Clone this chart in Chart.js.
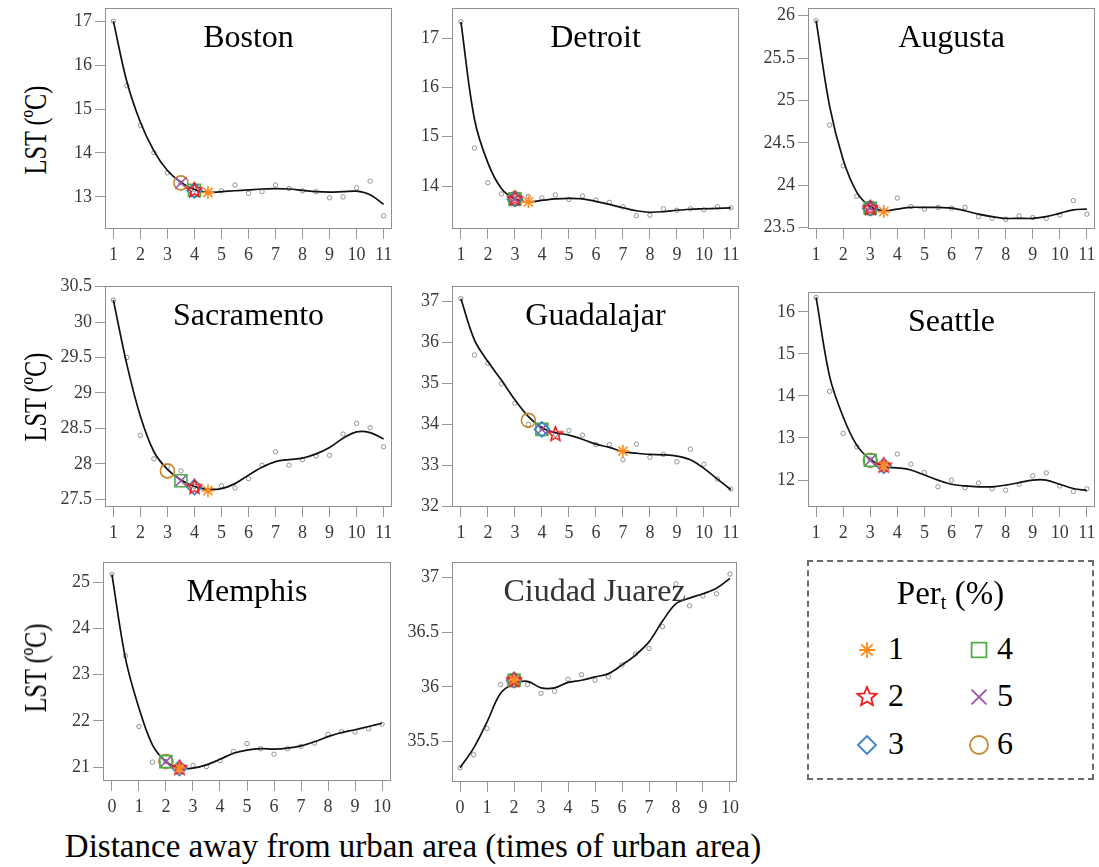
<!DOCTYPE html>
<html>
<head>
<meta charset="utf-8">
<script src="https://cdn.jsdelivr.net/npm/chart.js@4/dist/chart.umd.min.js"></script>
<style>
  html, body { margin: 0; padding: 0; background: #fff; }
  body { width: 1099px; height: 867px; position: relative; overflow: hidden;
         font-family: "Liberation Serif", "Times New Roman", serif; }
  canvas.panel { position: absolute; }
  .city { position: absolute; font-size: 32px; line-height: 32px; text-align: center;
          white-space: nowrap; color: #000; }
  .ytitle { position: absolute; left: 35px; font-size: 32px; line-height: 32px; white-space: nowrap;
            transform: translate(-50%, -50%) rotate(-90deg) scaleX(0.76); }
  .xtitle { position: absolute; left: 0; width: 826px; top: 830px; text-align: center;
            font-size: 33px; line-height: 33px; white-space: nowrap; }
  .legend { position: absolute; left: 807px; top: 560px; width: 287px; height: 220px;
            box-sizing: border-box; border: 2px dashed #6a6a6a; }
  .legtitle { position: absolute; left: 807px; width: 287px; top: 577px; text-align: center;
              font-size: 33px; line-height: 33px; white-space: nowrap; }
  .legtitle sub { font-size: 20px; line-height: 0; vertical-align: -0.25em; }
  .legnum { position: absolute; font-size: 32px; line-height: 32px; }
  canvas.legmark { position: absolute; }
</style>
</head>
<body>
<script>
// distances (times of urban area)
const distA = [1, 1.5, 2, 2.5, 3, 3.5, 4, 4.5, 5, 5.5, 6, 6.5, 7, 7.5, 8, 8.5, 9, 9.5, 10, 10.5, 11];
const distB = [0, 0.5, 1, 1.5, 2, 2.5, 3, 3.5, 4, 4.5, 5, 5.5, 6, 6.5, 7, 7.5, 8, 8.5, 9, 9.5, 10];
const ticksA = [1, 2, 3, 4, 5, 6, 7, 8, 9, 10, 11];
const ticksB = [0, 1, 2, 3, 4, 5, 6, 7, 8, 9, 10];

// LST observations (grey dots) and fitted curve, per city
const bostonObs = [17.0, 15.53, 14.63, 14.01, 13.55, 13.32, 13.16, 13.1, 13.14, 13.27, 13.08, 13.12, 13.27, 13.19, 13.14, 13.12, 12.98, 13.0, 13.21, 13.36, 12.57];
const bostonFit = [17.0, 15.62, 14.7, 14.05, 13.6, 13.33, 13.17, 13.1, 13.12, 13.14, 13.16, 13.18, 13.19, 13.18, 13.15, 13.12, 13.11, 13.12, 13.13, 13.05, 12.83];
const bostonPerX = [4.5, 4, 4, 4, 3.5, 3.5];
const bostonPerY = [13.1, 13.15, 13.15, 13.15, 13.32, 13.32];
const bostonTicks = [13, 14, 15, 16, 17];

const detroitObs = [17.33, 14.77, 14.07, 13.84, 13.75, 13.79, 13.76, 13.82, 13.73, 13.8, 13.72, 13.67, 13.58, 13.4, 13.41, 13.54, 13.51, 13.54, 13.52, 13.58, 13.56];
const detroitFit = [17.33, 15.36, 14.47, 13.95, 13.74, 13.68, 13.71, 13.74, 13.75, 13.74, 13.69, 13.63, 13.56, 13.5, 13.47, 13.48, 13.51, 13.53, 13.54, 13.55, 13.56];
const detroitPerX = [3.5, 3, 3, 3, 3, 3];
const detroitPerY = [13.68, 13.74, 13.74, 13.74, 13.74, 13.74];
const detroitTicks = [14, 15, 16, 17];

const augustaObs = [25.94, 24.71, 24.23, 23.87, 23.74, 23.7, 23.85, 23.75, 23.72, 23.74, 23.73, 23.74, 23.63, 23.61, 23.6, 23.64, 23.62, 23.61, 23.65, 23.82, 23.66];
const augustaFit = [25.94, 24.93, 24.3, 23.92, 23.75, 23.7, 23.72, 23.74, 23.74, 23.74, 23.73, 23.7, 23.66, 23.63, 23.61, 23.61, 23.61, 23.63, 23.67, 23.71, 23.72];
const augustaPerX = [3.5, 3, 3, 3, 3, 3];
const augustaPerY = [23.69, 23.73, 23.73, 23.73, 23.73, 23.73];
const augustaTicks = [23.5, 24, 24.5, 25, 25.5, 26];

const sacramentoObs = [30.31, 29.5, 28.4, 28.07, 27.96, 27.9, 27.68, 27.62, 27.69, 27.66, 27.79, 27.98, 28.17, 27.98, 28.06, 28.11, 28.12, 28.42, 28.57, 28.51, 28.24];
const sacramentoFit = [30.31, 29.4, 28.67, 28.17, 27.92, 27.77, 27.68, 27.64, 27.65, 27.72, 27.84, 27.95, 28.03, 28.06, 28.08, 28.14, 28.23, 28.36, 28.45, 28.44, 28.35];
const sacramentoPerX = [4.5, 4, 4, 3.5, 3.5, 3];
const sacramentoPerY = [27.62, 27.67, 27.67, 27.76, 27.76, 27.9];
const sacramentoTicks = [27.5, 28, 28.5, 29, 29.5, 30, 30.5];

const guadalajarObs = [37.06, 35.69, 35.49, 34.99, 34.52, 34.0, 33.9, 33.76, 33.85, 33.74, 33.51, 33.51, 33.14, 33.52, 33.2, 33.27, 33.09, 33.4, 33.03, 32.67, 32.43];
const guadalajarFit = [37.06, 36.06, 35.53, 35.08, 34.6, 34.19, 33.92, 33.8, 33.74, 33.64, 33.52, 33.44, 33.34, 33.3, 33.27, 33.26, 33.23, 33.14, 32.93, 32.67, 32.41];
const guadalajarPerX = [7, 4.5, 4, 4, 4, 3.5];
const guadalajarPerY = [33.35, 33.76, 33.88, 33.88, 33.88, 34.1];
const guadalajarTicks = [32, 33, 34, 35, 36, 37];

const seattleObs = [16.34, 14.11, 13.11, 12.79, 12.5, 12.35, 12.62, 12.38, 12.18, 11.84, 12.0, 11.82, 11.93, 11.79, 11.76, 11.9, 12.1, 12.17, 11.86, 11.73, 11.79];
const seattleFit = [16.34, 14.46, 13.5, 12.83, 12.49, 12.32, 12.29, 12.24, 12.12, 12.0, 11.9, 11.86, 11.84, 11.84, 11.88, 11.94, 12.0, 12.0, 11.9, 11.8, 11.75];
const seattlePerX = [3.5, 3.5, 3.5, 3, 3, 3];
const seattlePerY = [12.34, 12.34, 12.34, 12.47, 12.47, 12.47];
const seattleTicks = [12, 13, 14, 15, 16];

const memphisObs = [25.17, 23.41, 21.88, 21.11, 21.12, 20.98, 21.04, 21.01, 21.14, 21.34, 21.51, 21.4, 21.28, 21.4, 21.45, 21.52, 21.71, 21.77, 21.76, 21.83, 21.93];
const memphisFit = [25.17, 23.36, 22.28, 21.48, 21.12, 20.98, 20.98, 21.05, 21.17, 21.3, 21.37, 21.4, 21.39, 21.41, 21.46, 21.55, 21.66, 21.75, 21.81, 21.88, 21.95];
const memphisPerX = [2.5, 2.5, 2.5, 2, 2, 2];
const memphisPerY = [20.98, 20.98, 20.98, 21.12, 21.12, 21.12];
const memphisTicks = [21, 22, 23, 24, 25];

const juarezObs = [35.26, 35.38, 35.62, 36.02, 36.06, 36.02, 35.94, 35.96, 36.07, 36.11, 36.06, 36.09, 36.2, 36.3, 36.35, 36.55, 36.94, 36.74, 36.83, 36.85, 37.03];
const juarezFit = [35.26, 35.44, 35.68, 35.94, 36.03, 36.05, 35.99, 35.99, 36.04, 36.06, 36.09, 36.12, 36.2, 36.29, 36.41, 36.6, 36.76, 36.81, 36.85, 36.9, 36.99];
const juarezPerX = [2, 2, 2, 2, 2, 2];
const juarezPerY = [36.06, 36.06, 36.06, 36.06, 36.06, 36.06];
const juarezTicks = [35.5, 36, 36.5, 37];

const perLabels = ['1', '2', '3', '4', '5', '6'];
const perColors = ['#ff8a1c', '#f0191e', '#3a82c4', '#4fae4a', '#9a55a8', '#c2892f'];

Chart.defaults.font.family = "'Liberation Serif', 'Times New Roman', serif";

// 5-point open star (no built-in pointStyle for it)
function starCanvas(r, color, lw) {
  const s = Math.ceil(r * 2 + 4);
  const c = document.createElement('canvas');
  c.width = s; c.height = s;
  const g = c.getContext('2d');
  g.strokeStyle = color;
  g.lineWidth = lw;
  g.beginPath();
  for (let i = 0; i < 10; i++) {
    const a = -Math.PI / 2 + i * Math.PI / 5;
    const rr = i % 2 ? r * 0.45 : r;
    g.lineTo(s / 2 + rr * Math.cos(a), s / 2 + rr * Math.sin(a));
  }
  g.closePath();
  g.stroke();
  return c;
}

const plotStyles = ['star', starCanvas(7.5, perColors[1], 1.6), 'rectRot', 'rect', 'crossRot', 'circle'];
const plotSizes = [6.5, 7, 7.5, 8.5, 8, 7];
const legStyles = ['star', starCanvas(10, perColors[1], 1.8), 'rectRot', 'rect', 'crossRot', 'circle'];
const legSizes = [8, 10, 9, 10.5, 10.5, 9];

const panels = [
  { name: 'Boston', x: distA, obs: bostonObs, fit: bostonFit, perX: bostonPerX, perY: bostonPerY, xTicks: ticksA, yTicks: bostonTicks,
    box: [105, 8, 392, 229], xr: [0.69, 11.31], yr: [12.27, 17.3] },
  { name: 'Detroit', x: distA, obs: detroitObs, fit: detroitFit, perX: detroitPerX, perY: detroitPerY, xTicks: ticksA, yTicks: detroitTicks,
    box: [452, 8, 739, 229], xr: [0.67, 11.3], yr: [13.13, 17.61] },
  { name: 'Augusta', x: distA, obs: augustaObs, fit: augustaFit, perX: augustaPerX, perY: augustaPerY, xTicks: ticksA, yTicks: augustaTicks,
    box: [808, 8, 1095, 229], xr: [0.7, 11.3], yr: [23.485, 26.09] },
  { name: 'Sacramento', x: distA, obs: sacramentoObs, fit: sacramentoFit, perX: sacramentoPerX, perY: sacramentoPerY, xTicks: ticksA, yTicks: sacramentoTicks,
    box: [105, 286, 392, 507], xr: [0.69, 11.31], yr: [27.39, 30.51] },
  { name: 'Guadalajar', x: distA, obs: guadalajarObs, fit: guadalajarFit, perX: guadalajarPerX, perY: guadalajarPerY, xTicks: ticksA, yTicks: guadalajarTicks,
    box: [452, 286, 739, 507], xr: [0.67, 11.3], yr: [31.99, 37.37] },
  { name: 'Seattle', x: distA, obs: seattleObs, fit: seattleFit, perX: seattlePerX, perY: seattlePerY, xTicks: ticksA, yTicks: seattleTicks,
    box: [808, 292, 1095, 507], xr: [0.7, 11.3], yr: [11.36, 16.47] },
  { name: 'Memphis', x: distB, obs: memphisObs, fit: memphisFit, perX: memphisPerX, perY: memphisPerY, xTicks: ticksB, yTicks: memphisTicks,
    box: [103, 562, 391, 781], xr: [-0.33, 10.33], yr: [20.7, 25.44] },
  { name: 'Ciudad Juarez', x: distB, obs: juarezObs, fit: juarezFit, perX: juarezPerX, perY: juarezPerY, xTicks: ticksB, yTicks: juarezTicks,
    box: [452, 562, 737, 782], xr: [-0.3, 10.26], yr: [35.13, 37.14], color: '#333' },
];

const PAD_L = 52, PAD_T = 16, PAD_R = 14, PAD_B = 42;
const tickFont = { family: "'Liberation Serif', 'Times New Roman', serif", size: 18 };

// grey box round the plot region
const framePlugin = {
  id: 'frame',
  beforeDatasetsDraw(chart) {
    const a = chart.chartArea, ctx = chart.ctx;
    ctx.save();
    ctx.strokeStyle = '#8f8f8f';
    ctx.lineWidth = 1;
    ctx.strokeRect(Math.round(a.left) + 0.5, Math.round(a.top) + 0.5,
                   Math.round(a.right - a.left) - 1, Math.round(a.bottom - a.top) - 1);
    ctx.restore();
  }
};

panels.forEach(p => {
  const [l, t, r, b] = p.box;
  const cv = document.createElement('canvas');
  cv.className = 'panel';
  cv.width = r - l + PAD_L + PAD_R;
  cv.height = b - t + PAD_T + PAD_B;
  cv.style.left = (l - PAD_L) + 'px';
  cv.style.top = (t - PAD_T) + 'px';
  document.body.appendChild(cv);

  const datasets = [];
  for (let k = 0; k < 6; k++) {
    datasets.push({
      label: perLabels[k],
      data: [{ x: p.perX[k], y: p.perY[k] }],
      pointStyle: plotStyles[k],
      pointRadius: plotSizes[k],
      borderColor: perColors[k],
      backgroundColor: 'rgba(0,0,0,0)',
      borderWidth: 1.6
    });
  }
  datasets.push({
    label: 'fit',
    data: p.x.map((x, i) => ({ x: x, y: p.fit[i] })),
    showLine: true,
    pointRadius: 0,
    borderColor: '#111',
    borderWidth: 1.7,
    tension: 0.35,
    fill: false
  });
  datasets.push({
    label: 'obs',
    data: p.x.map((x, i) => ({ x: x, y: p.obs[i] })),
    pointStyle: 'circle',
    pointRadius: 2.2,
    borderWidth: 0.8,
    borderColor: '#7a7a7a',
    backgroundColor: 'rgba(0,0,0,0)'
  });

  new Chart(cv, {
    type: 'scatter',
    data: { datasets: datasets },
    options: {
      responsive: false,
      animation: false,
      events: [],
      layout: { padding: { left: 0, top: PAD_T, right: PAD_R, bottom: 0 } },
      plugins: { legend: { display: false }, tooltip: { enabled: false } },
      scales: {
        x: {
          type: 'linear',
          min: p.xr[0], max: p.xr[1],
          afterBuildTicks: s => { s.ticks = p.xTicks.map(v => ({ value: v })); },
          afterFit: s => { s.height = PAD_B; },
          border: { display: false },
          grid: { drawOnChartArea: false, tickLength: 10, color: '#999' },
          ticks: { autoSkip: false, maxRotation: 0, padding: 5, color: '#3a3a3a', font: tickFont,
                   callback: v => String(v) }
        },
        y: {
          type: 'linear',
          min: p.yr[0], max: p.yr[1],
          afterBuildTicks: s => { s.ticks = p.yTicks.map(v => ({ value: v })); },
          afterFit: s => { s.width = PAD_L; },
          border: { display: false },
          grid: { drawOnChartArea: false, tickLength: 10, color: '#999' },
          ticks: { autoSkip: false, padding: 3, color: '#3a3a3a', font: tickFont,
                   callback: v => String(v) }
        }
      }
    },
    plugins: [framePlugin]
  });

  const title = document.createElement('div');
  title.className = 'city';
  title.textContent = p.name;
  title.style.left = l + 'px';
  title.style.width = (r - l) + 'px';
  title.style.top = (t + 12) + 'px';
  if (p.color) title.style.color = p.color;
  document.body.appendChild(title);
});

// axis titles
[130, 397, 668].forEach(y => {
  const d = document.createElement('div');
  d.className = 'ytitle';
  d.style.top = y + 'px';
  d.textContent = 'LST (ºC)';
  document.body.appendChild(d);
});
const xt = document.createElement('div');
xt.className = 'xtitle';
xt.textContent = 'Distance away from urban area (times of urban area)';
document.body.appendChild(xt);

// legend box
const lg = document.createElement('div');
lg.className = 'legend';
document.body.appendChild(lg);
const lt = document.createElement('div');
lt.className = 'legtitle';
lt.innerHTML = 'Per<sub>t</sub> (%)';
document.body.appendChild(lt);

const legRows = [650, 697, 745];
const legMarkX = [867, 979];
const legTextX = [888, 997];
perLabels.forEach((lab, k) => {
  const col = Math.floor(k / 3), row = k % 3;
  const m = document.createElement('canvas');
  m.className = 'legmark';
  m.width = 30; m.height = 30;
  m.style.left = (legMarkX[col] - 15) + 'px';
  m.style.top = (legRows[row] - 15) + 'px';
  document.body.appendChild(m);
  const ctx = m.getContext('2d');
  ctx.strokeStyle = perColors[k];
  ctx.fillStyle = 'rgba(0,0,0,0)';
  ctx.lineWidth = 1.8;
  Chart.helpers.drawPoint(ctx, { pointStyle: legStyles[k], radius: legSizes[k], rotation: 0, borderWidth: 1.8 }, 15, 15);

  const n = document.createElement('div');
  n.className = 'legnum';
  n.textContent = lab;
  n.style.left = legTextX[col] + 'px';
  n.style.top = (legRows[row] - 18) + 'px';
  document.body.appendChild(n);
});
</script>
</body>
</html>
